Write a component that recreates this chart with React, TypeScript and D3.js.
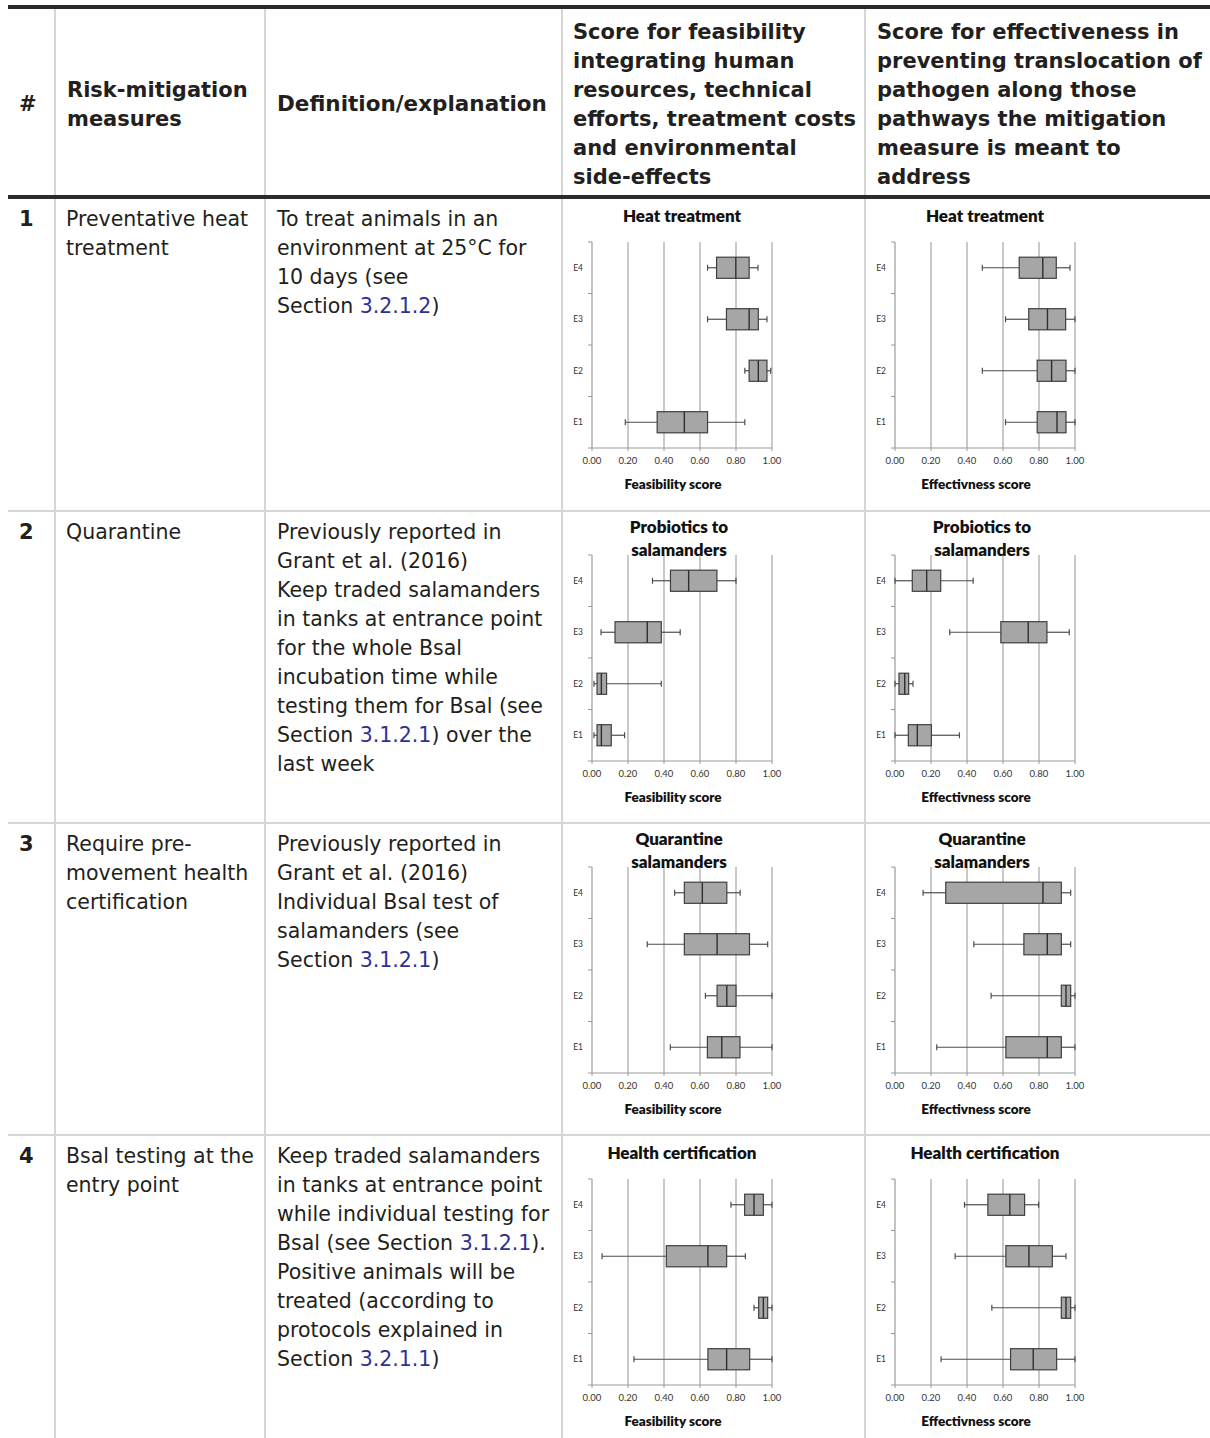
import React from "react";
import * as d3 from "d3";

// ---------- DATA ----------
const categories = ["E1", "E2", "E3", "E4"];
const xTickValues = [0, 0.2, 0.4, 0.6, 0.8, 1.0];

// each entry: [min, q1, median, q3, max] for E1, E2, E3, E4
const heatFeasibility = [
  [0.185, 0.362, 0.513, 0.642, 0.849],
  [0.849, 0.873, 0.924, 0.972, 0.993],
  [0.642, 0.747, 0.873, 0.924, 0.972],
  [0.642, 0.692, 0.799, 0.873, 0.922],
];
const heatEffectiveness = [
  [0.614, 0.79, 0.9, 0.95, 1.0],
  [0.485, 0.79, 0.87, 0.95, 1.0],
  [0.614, 0.743, 0.847, 0.948, 1.0],
  [0.485, 0.69, 0.821, 0.896, 0.972],
];
const probioticsFeasibility = [
  [0.011, 0.028, 0.052, 0.107, 0.181],
  [0.011, 0.028, 0.052, 0.081, 0.385],
  [0.05, 0.128, 0.307, 0.385, 0.49],
  [0.336, 0.436, 0.537, 0.694, 0.8],
];
const probioticsEffectiveness = [
  [0, 0.074, 0.124, 0.202, 0.358],
  [0, 0.022, 0.054, 0.076, 0.1],
  [0.304, 0.588, 0.74, 0.844, 0.968],
  [0, 0.096, 0.176, 0.254, 0.434],
];
const quarantineFeasibility = [
  [0.435, 0.641, 0.721, 0.822, 1.0],
  [0.63, 0.695, 0.749, 0.8, 1.0],
  [0.307, 0.513, 0.695, 0.875, 0.976],
  [0.459, 0.513, 0.613, 0.749, 0.823],
];
const quarantineEffectiveness = [
  [0.232, 0.616, 0.846, 0.924, 1.0],
  [0.534, 0.924, 0.95, 0.976, 1.0],
  [0.438, 0.716, 0.846, 0.924, 0.976],
  [0.156, 0.282, 0.822, 0.924, 0.976],
];
const healthFeasibility = [
  [0.233, 0.644, 0.748, 0.876, 1.0],
  [0.9, 0.926, 0.952, 0.976, 1.0],
  [0.056, 0.413, 0.644, 0.748, 0.852],
  [0.772, 0.848, 0.9, 0.952, 1.0],
];
const healthEffectiveness = [
  [0.256, 0.642, 0.768, 0.898, 1.0],
  [0.538, 0.924, 0.95, 0.976, 1.0],
  [0.334, 0.616, 0.744, 0.874, 0.95],
  [0.386, 0.516, 0.638, 0.72, 0.798],
];

const chartTitles = [
  ["Heat treatment"],
  ["Probiotics to", "salamanders"],
  ["Quarantine", "salamanders"],
  ["Health certification"],
];
const feasibilityLabel = "Feasibility score";
const effectivenessLabel = "Effectivness score";
const feasibilityData = [heatFeasibility, probioticsFeasibility, quarantineFeasibility, healthFeasibility];
const effectivenessData = [heatEffectiveness, probioticsEffectiveness, quarantineEffectiveness, healthEffectiveness];

const headerNumber = "#";
const headerMeasure = ["Risk-mitigation", "measures"];
const headerDefinition = "Definition/explanation";
const headerFeasibility = [
  "Score for feasibility",
  "integrating human",
  "resources, technical",
  "efforts, treatment costs",
  "and environmental",
  "side-effects",
];
const headerEffectiveness = [
  "Score for effectiveness in",
  "preventing translocation of",
  "pathogen along those",
  "pathways the mitigation",
  "measure is meant to",
  "address",
];

const rowNumbers = ["1", "2", "3", "4"];
const measureLines = [
  ["Preventative heat", "treatment"],
  ["Quarantine"],
  ["Require pre-", "movement health", "certification"],
  ["Bsal testing at the", "entry point"],
];
// text in [brackets] is a blue link
const definitionLines = [
  ["To treat animals in an", "environment at 25\u00B0C for", "10 days (see", "Section [3.2.1.2])"],
  [
    "Previously reported in",
    "Grant et al. (2016)",
    "Keep traded salamanders",
    "in tanks at entrance point",
    "for the whole Bsal",
    "incubation time while",
    "testing them for Bsal (see",
    "Section [3.1.2.1]) over the",
    "last week",
  ],
  [
    "Previously reported in",
    "Grant et al. (2016)",
    "Individual Bsal test of",
    "salamanders (see",
    "Section [3.1.2.1])",
  ],
  [
    "Keep traded salamanders",
    "in tanks at entrance point",
    "while individual testing for",
    "Bsal (see Section [3.1.2.1]).",
    "Positive animals will be",
    "treated (according to",
    "protocols explained in",
    "Section [3.2.1.1])",
  ],
];

// ---------- LAYOUT ----------
const W = 1210;
const H = 1438;
const colEdges = [8, 55, 265, 562, 865, 1210];
const headerTop = 7;
const headerBottom = 198;
const rowTops = [198, 511, 823, 1135];
const lineH = 29;
const TABLE_FONT = "'DejaVu Sans', Verdana, sans-serif";
const CHART_FONT = "Lato, 'Open Sans', sans-serif";
const TEXT_COLOR = "#231f20";
const LINK_COLOR = "#2e3192";
const GRID = "#b2b2b2";

function LinkText({ line, x, y, size, weight }: { line: string; x: number; y: number; size: number; weight?: string }) {
  const parts = line.split(/(\[[^\]]+\])/).filter((p) => p.length > 0);
  return (
    <text x={x} y={y} fontFamily={TABLE_FONT} fontSize={size} fontWeight={weight || "normal"} fill={TEXT_COLOR}>
      {parts.map((p, i) =>
        p.startsWith("[") ? (
          <tspan key={i} fill={LINK_COLOR}>
            {p.slice(1, -1)}
          </tspan>
        ) : (
          <tspan key={i}>{p}</tspan>
        )
      )}
    </text>
  );
}

function BoxChart({
  left,
  top,
  title,
  axisLabel,
  data,
}: {
  left: number;
  top: number;
  title: string[];
  axisLabel: string;
  data: number[][];
}) {
  const plotLeft = left + 30;
  const plotRight = left + 210;
  const plotTop = top + 44;
  const plotBottom = top + 250;
  const x = d3.scaleLinear().domain([0, 1]).range([plotLeft, plotRight]);
  const y = d3
    .scaleBand<string>()
    .domain([...categories].reverse())
    .range([plotTop, plotBottom]);
  const bw = y.bandwidth();
  const boxH = bw * 0.41;
  const capH = 6;
  const fmt = d3.format(".2f");
  const centerX = (plotLeft + plotRight) / 2;
  const titleX = title.length > 1 ? centerX - 3 : centerX;
  const titleBase = title.length > 1 ? [top + 22, top + 45] : [top + 24];
  const boundaries = d3.range(categories.length + 1).map((i) => plotTop + i * bw);

  return (
    <g>
      {xTickValues
        .filter((t) => t > 0)
        .map((t) => (
          <line key={"g" + t} x1={x(t)} x2={x(t)} y1={plotTop} y2={plotBottom} stroke={GRID} strokeWidth={1.4} />
        ))}
      <line x1={x(0)} x2={x(0)} y1={plotTop} y2={plotBottom} stroke="#9a9a9a" strokeWidth={1.2} />
      <line x1={x(0)} x2={x(1)} y1={plotBottom} y2={plotBottom} stroke="#9a9a9a" strokeWidth={1.2} />
      {boundaries.map((b, i) => (
        <line key={"yt" + i} x1={x(0) - 4} x2={x(0)} y1={b} y2={b} stroke="#9a9a9a" strokeWidth={1} />
      ))}
      {xTickValues.map((t) => (
        <line key={"xt" + t} x1={x(t)} x2={x(t)} y1={plotBottom} y2={plotBottom + 3} stroke="#9a9a9a" strokeWidth={1} />
      ))}
      {titleBase.map((yy, i) => (
        <text
          key={"t" + i}
          x={titleX}
          y={yy}
          textAnchor="middle"
          fontFamily={CHART_FONT}
          fontWeight={800}
          fontSize={17}
          fill="#111"
        >
          {title[i]}
        </text>
      ))}
      {categories.map((c) => (
        <text
          key={"c" + c}
          x={x(0) - 9}
          y={(y(c) as number) + bw / 2 + 3}
          textAnchor="end"
          fontFamily={CHART_FONT}
          fontSize={8.5}
          fill="#333"
        >
          {c}
        </text>
      ))}
      {xTickValues.map((t) => (
        <text
          key={"l" + t}
          x={x(t)}
          y={plotBottom + 16}
          textAnchor="middle"
          fontFamily={CHART_FONT}
          fontSize={9.5}
          fill="#333"
        >
          {fmt(t)}
        </text>
      ))}
      <text
        x={centerX - 9}
        y={plotBottom + 41}
        textAnchor="middle"
        fontFamily={CHART_FONT}
        fontWeight={800}
        fontSize={13.5}
        fill="#111"
      >
        {axisLabel}
      </text>
      {data.map((d, i) => {
        const cy = (y(categories[i]) as number) + bw / 2;
        const [mn, q1, md, q3, mx] = d;
        return (
          <g key={"b" + i}>
            <line x1={x(mn)} x2={x(q1)} y1={cy} y2={cy} stroke="#4d4d4d" strokeWidth={1.2} />
            <line x1={x(q3)} x2={x(mx)} y1={cy} y2={cy} stroke="#4d4d4d" strokeWidth={1.2} />
            <line x1={x(mn)} x2={x(mn)} y1={cy - capH / 2} y2={cy + capH / 2} stroke="#4d4d4d" strokeWidth={1.2} />
            <line x1={x(mx)} x2={x(mx)} y1={cy - capH / 2} y2={cy + capH / 2} stroke="#4d4d4d" strokeWidth={1.2} />
            <rect
              x={x(q1)}
              y={cy - boxH / 2}
              width={x(q3) - x(q1)}
              height={boxH}
              fill="#a6a6a6"
              stroke="#3f3f3f"
              strokeWidth={1.2}
            />
            <line x1={x(md)} x2={x(md)} y1={cy - boxH / 2} y2={cy + boxH / 2} stroke="#2f2f2f" strokeWidth={1.4} />
          </g>
        );
      })}
    </g>
  );
}

export default function App() {
  const baseOffset = 28; // first-line baseline below row top
  return (
    <svg
      width={W}
      height={H}
      style={{ position: "absolute", left: 0, top: 0, background: "#fff" }}
      xmlns="http://www.w3.org/2000/svg"
    >
      <rect x={0} y={0} width={W} height={H} fill="#fff" />
      {/* vertical dividers */}
      {colEdges.slice(1, 5).map((cx) => (
        <line key={"v" + cx} x1={cx} x2={cx} y1={headerTop} y2={H} stroke="#d6d6d6" strokeWidth={2} />
      ))}
      {/* row dividers */}
      {rowTops.slice(1).map((ry) => (
        <line key={"h" + ry} x1={colEdges[0]} x2={W} y1={ry} y2={ry} stroke="#d6d6d6" strokeWidth={2} />
      ))}
      <line x1={colEdges[0]} x2={W} y1={headerTop} y2={headerTop} stroke="#2b2b2b" strokeWidth={4} />
      <line x1={colEdges[0]} x2={W} y1={headerBottom - 1} y2={headerBottom - 1} stroke="#2b2b2b" strokeWidth={4} />

      {/* header */}
      <text x={19} y={111} fontFamily={TABLE_FONT} fontWeight="bold" fontSize={21} fill={TEXT_COLOR}>
        {headerNumber}
      </text>
      {headerMeasure.map((l, i) => (
        <text key={"hm" + i} x={67} y={97 + i * lineH} fontFamily={TABLE_FONT} fontWeight="bold" fontSize={21} fill={TEXT_COLOR}>
          {l}
        </text>
      ))}
      <text x={277} y={111} fontFamily={TABLE_FONT} fontWeight="bold" fontSize={21.5} fill={TEXT_COLOR}>
        {headerDefinition}
      </text>
      {headerFeasibility.map((l, i) => (
        <text key={"hf" + i} x={573} y={39 + i * lineH} fontFamily={TABLE_FONT} fontWeight="bold" fontSize={21} fill={TEXT_COLOR}>
          {l}
        </text>
      ))}
      {headerEffectiveness.map((l, i) => (
        <text key={"he" + i} x={877} y={39 + i * lineH} fontFamily={TABLE_FONT} fontWeight="bold" fontSize={21} fill={TEXT_COLOR}>
          {l}
        </text>
      ))}

      {/* rows */}
      {rowTops.map((rt, r) => (
        <g key={"row" + r}>
          <text x={19} y={rt + baseOffset} fontFamily={TABLE_FONT} fontWeight="bold" fontSize={21} fill={TEXT_COLOR}>
            {rowNumbers[r]}
          </text>
          {measureLines[r].map((l, i) => (
            <LinkText key={"m" + i} line={l} x={66} y={rt + baseOffset + i * lineH} size={20.5} />
          ))}
          {definitionLines[r].map((l, i) => (
            <LinkText key={"d" + i} line={l} x={277} y={rt + baseOffset + i * lineH} size={20.5} />
          ))}
          <BoxChart left={colEdges[3]} top={rt} title={chartTitles[r]} axisLabel={feasibilityLabel} data={feasibilityData[r]} />
          <BoxChart left={colEdges[4]} top={rt} title={chartTitles[r]} axisLabel={effectivenessLabel} data={effectivenessData[r]} />
        </g>
      ))}
    </svg>
  );
}
